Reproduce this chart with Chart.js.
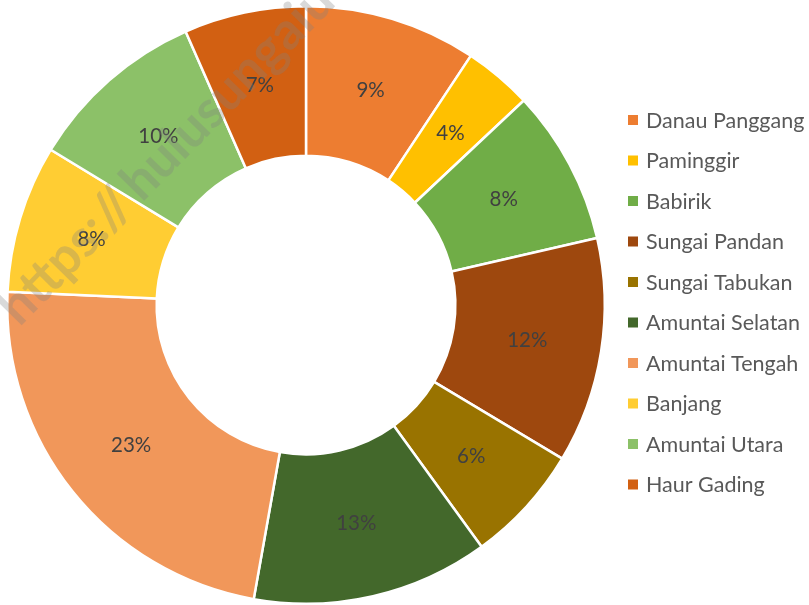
<!DOCTYPE html>
<html><head><meta charset="utf-8">
<script src="https://cdn.jsdelivr.net/npm/chart.js@4"></script>
<style>html,body{margin:0;padding:0;background:#fff}#wrap{width:809px;height:605px;position:relative}</style>
</head><body><div id="wrap"><canvas id="c" width="809" height="605"></canvas></div>
<script>
const categories = ["Danau Panggang","Paminggir","Babirik","Sungai Pandan","Sungai Tabukan","Amuntai Selatan","Amuntai Tengah","Banjang","Amuntai Utara","Haur Gading"];
const shares = [9.3,3.7,8.4,12.2,6.4,12.8,22.9,8.0,9.7,6.6];
const colors = ["#ED7D31","#FFC000","#70AD47","#9E480E","#997300","#43682B","#F1975A","#FFCD33","#8CC168","#D26012"];
const watermarkPrefix = "https://";
const watermarkHost = "hulusungaiutarakab.go.id";
const FONT = "Lato, 'Open Sans', sans-serif";

const labelPlugin = {
  id:'labels',
  afterDatasetsDraw(chart){
    const ctx = chart.ctx;
    const meta = chart.getDatasetMeta(0);
    const total = shares.reduce((a,b)=>a+b,0);
    ctx.save();
    ctx.font = "20.5px " + FONT;
    ctx.fillStyle = "#404040";
    ctx.textAlign = "center"; ctx.textBaseline = "middle";
    meta.data.forEach((arc,i)=>{
      const p = arc.getProps(['x','y','startAngle','endAngle','innerRadius','outerRadius'],true);
      const a = (p.startAngle+p.endAngle)/2, r=(p.innerRadius+p.outerRadius)/2;
      ctx.fillText(Math.round(shares[i]/total*100)+"%", p.x+Math.cos(a)*r, p.y+Math.sin(a)*r);
    });
    // legend
    ctx.textAlign="left";
    ctx.font = "21.5px " + FONT;
    categories.forEach((c,i)=>{
      const y = 120 + i*40.5;
      ctx.fillStyle = colors[i];
      ctx.fillRect(628, y-5, 10, 10);
      ctx.fillStyle="#595959";
      ctx.fillText(c, 646, y+1);
    });
    // watermark
    ctx.translate(142, 203);
    ctx.rotate(-45.5*Math.PI/180);
    ctx.font = "bold 52px " + FONT;
    ctx.fillStyle = "rgba(130,130,130,0.3)";
    ctx.textBaseline = "alphabetic";
    ctx.textAlign = "left";
    ctx.fillText(watermarkHost, 0, 0);
    ctx.textAlign = "right";
    ctx.fillText(watermarkPrefix, -7, 0);
    ctx.restore();
  }
};

new Chart(document.getElementById('c'), {
  type:'doughnut',
  data:{labels:categories, datasets:[{data:shares, backgroundColor:colors, borderColor:"#fff", borderWidth:2.5}]},
  options:{
    responsive:false, animation:false, cutout:'50%',
    layout:{padding:{left:6,right:203,top:5,bottom:0}},
    plugins:{legend:{display:false}, tooltip:{enabled:false}}
  },
  plugins:[labelPlugin]
});
</script></body></html>
